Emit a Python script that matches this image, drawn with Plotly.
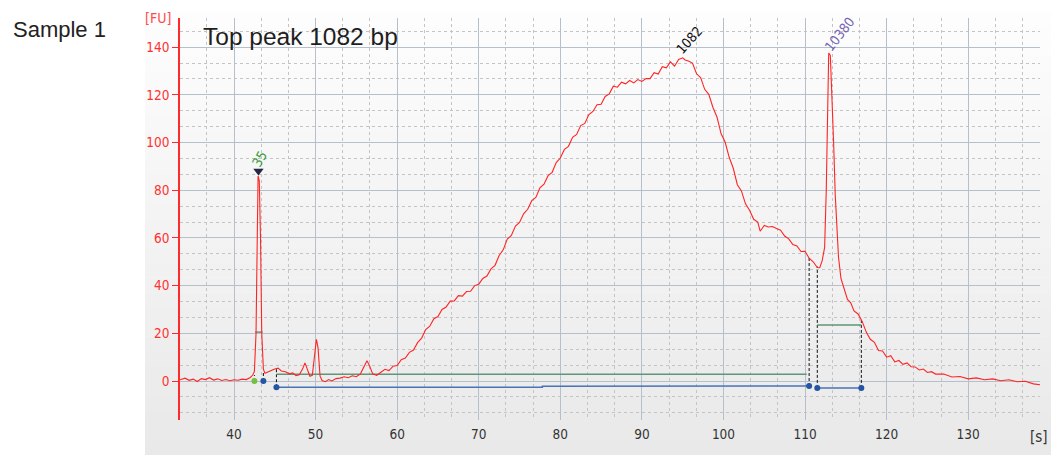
import plotly.graph_objects as go

# ---------------- data ----------------
time_s = [33.4, 34.0, 34.5, 35.0, 35.5, 36.0, 36.5, 37.0, 37.5, 38.0, 38.5, 39.0, 39.5, 40.0, 40.5,
          41.0, 41.5, 42.0, 42.3, 42.5, 42.7, 42.85, 42.95, 43.1, 43.25, 43.4, 43.6, 43.8, 44.2, 44.6,
          45.0, 45.4, 45.8, 46.3, 46.8, 47.2, 47.6, 48.0, 48.4, 48.7, 49.0, 49.3, 49.6, 49.9, 50.1,
          50.3, 50.55, 50.8, 51.2, 51.6, 52.0, 52.5, 53.0, 53.5, 54.0, 54.5, 55.0, 55.5, 55.9, 56.3,
          56.6, 57.0, 57.5, 58.0, 58.5, 59.0, 59.5, 60.0, 60.5, 61.0, 61.5, 62.0, 62.5, 63.0, 63.5,
          64.0, 64.5, 65.0, 65.5, 66.0, 66.5, 67.0, 67.5, 68.0, 68.5, 69.0, 69.5, 70.0, 70.5, 71.0,
          71.5, 72.0, 72.5, 73.0, 73.5, 74.0, 74.5, 75.0, 75.5, 76.0, 76.5, 77.0, 77.5, 78.0, 78.5,
          79.0, 79.5, 80.0, 80.5, 81.0, 81.5, 82.0, 82.5, 83.0, 83.5, 84.0, 84.5, 85.0, 85.5, 86.0,
          86.5, 87.0, 87.5, 88.0, 88.5, 89.0, 89.5, 90.0, 90.5, 91.0, 91.5, 92.0, 92.5, 93.0, 93.5,
          94.0, 94.5, 95.0, 95.3, 95.7, 96.2, 96.7, 97.2, 97.7, 98.2, 98.7, 99.2, 99.7, 100.2, 100.7,
          101.2, 101.7, 102.2, 102.7, 103.2, 103.7, 104.2, 104.5, 105.0, 105.5, 106.0, 106.5, 107.0, 107.5, 108.0,
          108.5, 109.0, 109.5, 110.0, 110.5, 111.0, 111.5, 111.8, 112.1, 112.4, 112.6, 112.75, 112.9, 113.1, 113.3,
          113.5, 113.7, 113.9, 114.1, 114.4, 114.8, 115.2, 115.6, 116.0, 116.5, 117.0, 117.5, 118.0, 118.5, 119.0,
          119.5, 120.0, 120.5, 121.0, 121.5, 122.0, 122.5, 123.0, 123.5, 124.0, 124.5, 125.0, 125.5, 126.0, 127.0,
          128.0, 129.0, 130.0, 131.0, 132.0, 133.0, 134.0, 135.0, 136.0, 137.0, 138.0, 138.8]
fluor = [0.5, 1.2, 0.3, 0.8, -0.2, 1.0, 0.6, 1.4, 0.4, 0.9, 0.2, 0.6, 0.1, 0.5, 0.3,
         0.8, 0.6, 1.5, 2.5, 4.0, 20.0, 70.0, 86.0, 84.0, 60.0, 20.0, 5.0, 3.2, 3.8, 4.6,
         5.0, 5.4, 4.2, 3.9, 3.0, 3.4, 2.2, 2.6, 5.0, 7.6, 5.0, 2.0, 2.4, 12.0, 17.5,
         14.0, 2.0, 0.2, -0.3, 0.6, 0.0, 1.0, 1.2, 1.8, 1.4, 2.2, 1.8, 3.0, 5.5, 8.5,
         6.5, 3.0, 2.4, 3.6, 4.9, 4.4, 6.2, 6.5, 8.9, 9.6, 12.0, 13.0, 16.1, 18.0, 21.6,
         23.0, 26.1, 27.0, 30.0, 31.0, 33.5, 33.6, 35.8, 35.6, 37.5, 37.6, 40.0, 40.6, 43.0, 44.0,
         47.0, 48.5, 52.6, 55.0, 59.5, 61.0, 65.0, 66.5, 70.1, 72.0, 75.6, 77.0, 81.0, 82.5, 86.1,
         87.5, 91.6, 93.5, 97.1, 98.4, 102.2, 103.4, 107.1, 108.0, 111.7, 113.0, 115.8, 116.0, 119.3, 120.4,
         123.6, 123.2, 125.3, 124.6, 126.0, 125.0, 126.4, 125.6, 126.8, 126.8, 129.3, 128.7, 131.8, 131.3, 133.8,
         132.0, 134.8, 135.5, 134.6, 134.2, 133.3, 128.8, 127.2, 122.3, 120.2, 114.8, 110.7, 103.8, 100.2, 93.8,
         89.2, 82.3, 79.7, 74.3, 71.6, 67.8, 66.6, 62.8, 65.2, 64.6, 64.8, 63.9, 63.2, 60.8, 59.6,
         57.2, 56.6, 54.3, 54.4, 51.5, 50.0, 47.6, 47.5, 50.5, 56.0, 80.0, 115.0, 137.5, 136.5, 120.0,
         100.0, 78.0, 62.0, 52.0, 43.0, 38.6, 34.2, 32.8, 29.4, 28.1, 25.0, 20.5, 17.5, 16.2, 12.8,
         12.6, 10.0, 10.6, 8.0, 8.6, 7.0, 7.6, 6.0, 5.9, 4.6, 5.0, 3.6, 3.9, 2.9, 2.9,
         1.7, 1.9, 0.9, 1.3, 0.5, 0.9, 0.1, 0.5, -0.3, -0.1, -1.2, -1.6]

x_ticks = [40, 50, 60, 70, 80, 90, 100, 110, 120, 130]
y_ticks = [0, 20, 40, 60, 80, 100, 120, 140]

# peak labels: text, x, y
peak_labels = ["35", "1082", "10380"]
peak_label_x = [43.1, 95.8, 114.2]
peak_label_y = [93.0, 142.8, 145.5]
marker_peak_x = [43.0]
marker_peak_y = [88.0]

# region / baseline markings
green_seg_x = [[45.2, 110.2], [111.5, 116.9], [42.6, 43.5]]
green_seg_y = [[2.8, 2.8], [23.5, 23.5], [20.5, 20.5]]
blue_seg_x = [[45.2, 77.8, 77.8, 110.5], [111.5, 116.9]]
blue_seg_y = [[-2.6, -2.6, -2.2, -2.1], [-2.9, -2.9]]
blue_dot_x = [43.6, 45.2, 110.5, 111.5, 116.9]
blue_dot_y = [0.0, -2.6, -2.1, -2.9, -2.9]
green_dot_x = [42.5]
green_dot_y = [0.0]
drop_x = [42.5, 43.6, 45.2, 110.5, 111.5, 116.9]
drop_y0 = [0.0, 0.0, -2.6, -2.1, -2.9, -2.9]
drop_y1 = [2.5, 4.0, 5.0, 52.0, 48.0, 26.0]

# ---------------- figure ----------------
W, H = 1051, 455
ML, MR, MT, MB = 180, 11, 18, 35
pw, ph = W - ML - MR, H - MT - MB

def px_to_paper_x(p):
    return (p - ML) / pw

def px_to_paper_y(p):
    return (H - MB - p) / ph

fig = go.Figure()

# background gradient panel
shapes = []
n_bands = 30
top_px, bot_px = 12, 455
c_top, c_bot = (253, 253, 253), (233, 233, 233)
for i in range(n_bands):
    y0p = top_px + (bot_px - top_px) * i / n_bands
    y1p = top_px + (bot_px - top_px) * (i + 1) / n_bands
    t = i / (n_bands - 1)
    c = tuple(round(c_top[k] + (c_bot[k] - c_top[k]) * t) for k in range(3))
    shapes.append(dict(type="rect", xref="paper", yref="paper",
                       x0=px_to_paper_x(145), x1=px_to_paper_x(1051),
                       y0=px_to_paper_y(y1p), y1=px_to_paper_y(y0p) + 0.001,
                       fillcolor="rgb(%d,%d,%d)" % c, line=dict(width=0), layer="below"))

# dashed drop lines
for xv, a, b in zip(drop_x, drop_y0, drop_y1):
    fig.add_trace(go.Scatter(x=[xv, xv], y=[a, b], mode="lines",
                             line=dict(color="#111111", width=1, dash="3px,2px"),
                             hoverinfo="skip", showlegend=False))

for sx, sy in zip(green_seg_x, green_seg_y):
    fig.add_trace(go.Scatter(x=sx, y=sy, mode="lines", line=dict(color="#5f9678", width=1.5),
                             hoverinfo="skip", showlegend=False))
for sx, sy in zip(blue_seg_x, blue_seg_y):
    fig.add_trace(go.Scatter(x=sx, y=sy, mode="lines", line=dict(color="#4a72b8", width=1.5),
                             hoverinfo="skip", showlegend=False))

# main trace
fig.add_trace(go.Scatter(x=time_s, y=fluor, mode="lines",
                         line=dict(color="#ff2424", width=1.1), showlegend=False))

fig.add_trace(go.Scatter(x=blue_dot_x, y=blue_dot_y, mode="markers",
                         marker=dict(color="#2455a4", size=6), showlegend=False))
fig.add_trace(go.Scatter(x=green_dot_x, y=green_dot_y, mode="markers",
                         marker=dict(color="#74c043", size=6), showlegend=False))
fig.add_trace(go.Scatter(x=marker_peak_x, y=marker_peak_y, mode="markers",
                         marker=dict(symbol="triangle-down", color="#262646", size=9),
                         showlegend=False))

FONT_TICK = "DejaVu Sans Condensed, DejaVu Sans"
annotations = []
label_colors = ["#3c9a3c", "#111111", "#7464b4"]
label_angles = [-60, -48, -52]
for t, xv, yv, c, ang in zip(peak_labels, peak_label_x, peak_label_y, label_colors, label_angles):
    annotations.append(dict(x=xv, y=yv, xref="x", yref="y", text=t, showarrow=False,
                            textangle=ang, font=dict(family=FONT_TICK, size=13.5, color=c)))

annotations.append(dict(x=px_to_paper_x(11), y=px_to_paper_y(29), xref="paper", yref="paper",
                        text="Sample 1", showarrow=False, xanchor="left", yanchor="middle",
                        font=dict(family="Liberation Sans, Arial", size=22, color="#222222")))
annotations.append(dict(x=px_to_paper_x(201), y=px_to_paper_y(37), xref="paper", yref="paper",
                        text="Top peak 1082 bp", showarrow=False, xanchor="left", yanchor="middle",
                        font=dict(family="Liberation Sans, Arial", size=24.5, color="#1e1e1e")))
annotations.append(dict(x=px_to_paper_x(173), y=px_to_paper_y(18), xref="paper", yref="paper",
                        text="[FU]", showarrow=False, xanchor="right", yanchor="middle",
                        font=dict(family=FONT_TICK, size=14, color="#ff4a4a")))
annotations.append(dict(x=px_to_paper_x(1050), y=px_to_paper_y(437), xref="paper", yref="paper",
                        text="[s]", showarrow=False, xanchor="right", yanchor="middle",
                        font=dict(family=FONT_TICK, size=15, color="#333333")))

fig.update_layout(
    width=W, height=H,
    margin=dict(l=ML, r=MR, t=MT, b=MB),
    paper_bgcolor="white", plot_bgcolor="rgba(0,0,0,0)",
    shapes=shapes, annotations=annotations,
    xaxis=dict(range=[33.38, 138.8], tickvals=x_ticks, ticktext=[str(v) for v in x_ticks],
               showgrid=True, gridcolor="#b6bfcc", gridwidth=1, zeroline=False,
               showline=False, ticks="", ticklabelstandoff=4,
               tickfont=dict(family=FONT_TICK, size=13.5, color="#333333"),
               minor=dict(dtick=10 / 3, tick0=0, showgrid=True, gridcolor="#c4c4c4",
                          griddash="3px,3px", gridwidth=1)),
    yaxis=dict(range=[-16.35, 152.2], tickvals=y_ticks, ticktext=[str(v) for v in y_ticks],
               showgrid=True, gridcolor="#b6bfcc", gridwidth=1, zeroline=False,
               showline=True, linecolor="#ff2a2a", linewidth=1.5,
               ticks="outside", ticklen=6, tickcolor="#ff2a2a", tickwidth=1,
               tickfont=dict(family=FONT_TICK, size=13.5, color="#ff3030"),
               minor=dict(dtick=20 / 3, tick0=0, showgrid=True, gridcolor="#c4c4c4",
                          griddash="3px,3px", gridwidth=1)),
)

fig.write_html("out.html")
